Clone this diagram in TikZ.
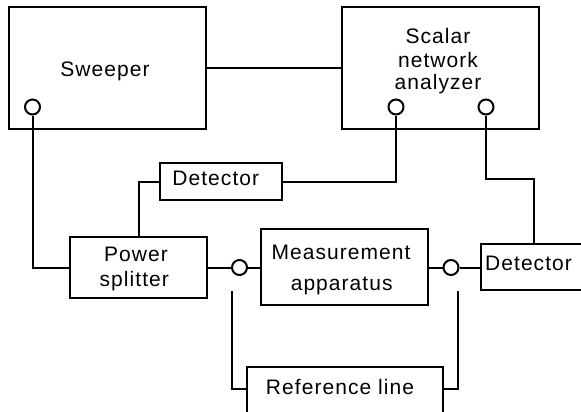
\documentclass[tikz,border=0pt]{standalone}
\usepackage{fontspec}
\setmainfont{Liberation Sans}
\newfontfamily\spacedfont{Liberation Sans}[LetterSpace=5]
\tikzset{
  wire/.style={line width=2pt},
  unit/.style={draw, line width=2pt, rectangle, inner sep=0pt},
  port/.style={draw, line width=2pt, circle, fill=white, inner sep=0pt, minimum size=15pt},
  txt/.style={inner sep=0pt, anchor=base, font=\spacedfont\fontsize{21}{24}\selectfont}
}
\begin{document}
\begin{tikzpicture}[x=1pt, y=-1pt]
  \useasboundingbox (0,0) rectangle (581,412);
  \clip (0,0) rectangle (581,412);

  % instrument boxes
  \node[unit, minimum width=197pt, minimum height=122pt] (sw)   at (107.5,68)  {};
  \node[unit, minimum width=197pt, minimum height=122pt] (sna)  at (440.5,68)  {};
  \node[unit, minimum width=122pt, minimum height=37pt]  (det1) at (221,181.5)  {};
  \node[unit, minimum width=137pt, minimum height=61pt]  (ps)   at (138.5,267.5) {};
  \node[unit, minimum width=167pt, minimum height=76pt]  (meas) at (344.5,267) {};
  \node[unit, minimum width=119pt, minimum height=45.5pt] (det2) at (540.5,267) {};
  \node[unit, minimum width=196pt, minimum height=56pt]  (ref)  at (345,395)   {};

  % labels
  \node[txt] (tsw) at (105,76.7) {Sweeper};
  \node[txt] (tsna1) at (438,44)   {Scalar};
  \node[txt] (tsna2) at (438,67.5) {network};
  \node[txt] (tsna3) at (438,89.3) {analyzer};
  \node[txt] (tdet1) at (215.8,185.7) {Detector};
  \node[txt] (tps1) at (136,261) {Power};
  \node[txt] (tps2) at (134.3,286.3) {splitter};
  \node[txt] (tme1) at (341,259.3) {Measurement};
  \node[txt] (tme2) at (341.7,290.7) {apparatus};
  \node[txt, anchor=base west] (tdet2) at (485,270.7) {Detector};
  \node[txt] (tref) at (340,394) {Reference line};

  % connectors
  \draw[wire] (sw) -- (sna);
  \draw[wire] (det1) -| (ps);
  \coordinate (k) at (534,179);
  \coordinate (la) at (232,291);
  \coordinate (ra) at (458,291);

  % ports
  \node[port] (cs) at (32.5,107) {};
  \node[port] (c1) at (396,107) {};
  \node[port] (c2) at (486,107) {};
  \node[port] (cl) at (239.5,267.5) {};
  \node[port] (cr) at (451,267.5) {};

  \draw[wire] (cs) |- (ps);
  \draw[wire] (c1) |- (det1);
  \draw[wire] (c2) |- (k) -- (k |- det2.north);
  \draw[wire] (ps.east |- cl) -- (cl) -- (cl -| meas.west);
  \draw[wire] (meas.east |- cr) -- (cr) -- (cr -| det2.west);
  \draw[wire] (la) |- ([yshift=-22.5pt]ref.north west);
  \draw[wire] (ra) |- ([yshift=-22.5pt]ref.north east);
\end{tikzpicture}
\end{document}
